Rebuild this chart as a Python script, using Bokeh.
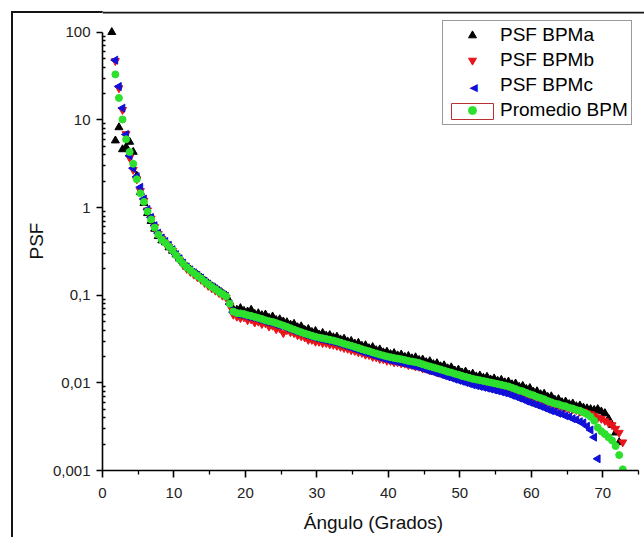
import numpy as np
from bokeh.plotting import figure
from bokeh.models import (Range1d, FixedTicker, CustomJSTickFormatter, Legend, LegendItem, Label,
                          Span, BoxAnnotation)
from bokeh.embed import file_html
from bokeh.resources import INLINE

# ---------------- data ----------------
angulo = [round(1.3 + 0.5 * i, 1) for i in range(144)]

psf_bpma = [
    100, 5.8, 8.2, 4.6, 4.9, 5.6, 4.3, 2.3, 1.5, 1.12,
    0.86, 0.70, 0.57, 0.47, 0.42, 0.40, 0.35, 0.32, 0.29, 0.26,
    0.235, 0.21, 0.196, 0.18, 0.17, 0.158, 0.146, 0.136, 0.126, 0.12,
    0.112, 0.105, 0.099, 0.084, 0.069, 0.068, 0.071, 0.066, 0.065, 0.068,
    0.061, 0.062, 0.059, 0.060, 0.055, 0.057, 0.052, 0.053, 0.050, 0.049,
    0.046, 0.047, 0.043, 0.044, 0.040, 0.041, 0.038, 0.039, 0.0355, 0.037,
    0.0345, 0.0350, 0.0330, 0.0335, 0.0312, 0.0318, 0.0296, 0.0300, 0.0280, 0.0285,
    0.0264, 0.0268, 0.0248, 0.0255, 0.0235, 0.0240, 0.0222, 0.0226, 0.0212, 0.0218,
    0.0205, 0.0210, 0.0197, 0.0202, 0.0190, 0.0195, 0.0182, 0.0184, 0.0172, 0.0176,
    0.0163, 0.0167, 0.0154, 0.0158, 0.0146, 0.0150, 0.0138, 0.0141, 0.0131, 0.0134,
    0.0124, 0.0127, 0.0118, 0.0121, 0.0114, 0.0117, 0.0109, 0.0112, 0.0105, 0.0108,
    0.0101, 0.0103, 0.0096, 0.0098, 0.0090, 0.0092, 0.0085, 0.0087, 0.0079, 0.0080,
    0.0074, 0.0075, 0.0069, 0.0070, 0.0064, 0.0065, 0.0060, 0.0061, 0.0057, 0.0058,
    0.0054, 0.0055, 0.0052, 0.0051, 0.0050, 0.0049, 0.0050, 0.0047, 0.0045, 0.0039,
    0.0033, 0.0027, 0.0021, None,
]

psf_bpmb = [
    None, 47, 23, 13.0, 6.9, 3.7, 2.7, 2.1, 1.55, 1.2,
    0.93, 0.75, 0.60, 0.50, 0.44, 0.39, 0.355, 0.32, 0.28, 0.25,
    0.222, 0.20, 0.185, 0.172, 0.16, 0.15, 0.138, 0.128, 0.12, 0.113,
    0.106, 0.099, 0.094, 0.076, 0.060, 0.057, 0.055, 0.056, 0.052, 0.053,
    0.049, 0.050, 0.047, 0.048, 0.044, 0.045, 0.041, 0.042, 0.037, 0.040,
    0.038, 0.037, 0.035, 0.034, 0.033, 0.031, 0.031, 0.0295, 0.0295, 0.0285,
    0.0285, 0.0275, 0.0272, 0.0265, 0.0258, 0.0250, 0.0245, 0.0236, 0.0232, 0.0224,
    0.0220, 0.0210, 0.0208, 0.0198, 0.0196, 0.0188, 0.0186, 0.0179, 0.0178, 0.0172,
    0.0172, 0.0167, 0.0166, 0.0160, 0.0160, 0.0154, 0.0153, 0.0146, 0.0145, 0.0139,
    0.0138, 0.0132, 0.0131, 0.0125, 0.0124, 0.0119, 0.0117, 0.0113, 0.0111, 0.0107,
    0.0106, 0.0103, 0.0102, 0.0099, 0.0099, 0.0096, 0.0095, 0.0093, 0.0092, 0.0089,
    0.0088, 0.0085, 0.0084, 0.0080, 0.0079, 0.0075, 0.0074, 0.0070, 0.0069, 0.0066,
    0.0065, 0.0062, 0.0061, 0.0058, 0.0057, 0.0055, 0.0054, 0.0052, 0.0051, 0.0050,
    0.0049, 0.0047, 0.0047, 0.0045, 0.0044, 0.0042, 0.0040, 0.0039, 0.0037, 0.0035,
    0.0033, 0.0030, 0.0027, 0.0021,
]

psf_bpmc = [
    None, 48, 24, 13.6, 6.8, 3.9, 2.8, 2.25, 1.7, 1.25,
    0.95, 0.77, 0.62, 0.51, 0.45, 0.41, 0.37, 0.33, 0.29, 0.26,
    0.232, 0.21, 0.194, 0.18, 0.168, 0.157, 0.144, 0.134, 0.125, 0.118,
    0.11, 0.103, 0.097, 0.079, 0.064, 0.061, 0.060, 0.059, 0.057, 0.056,
    0.055, 0.053, 0.052, 0.050, 0.049, 0.048, 0.046, 0.045, 0.044, 0.042,
    0.041, 0.039, 0.038, 0.037, 0.0355, 0.0345, 0.0335, 0.0325, 0.0318, 0.0312,
    0.0305, 0.0299, 0.0293, 0.0285, 0.0277, 0.0268, 0.0260, 0.0252, 0.0244, 0.0236,
    0.0228, 0.0221, 0.0215, 0.0208, 0.0202, 0.0196, 0.0190, 0.0186, 0.0181, 0.0177,
    0.0174, 0.0170, 0.0166, 0.0162, 0.0158, 0.0155, 0.0151, 0.0146, 0.0141, 0.0137,
    0.0133, 0.0129, 0.0125, 0.0121, 0.0117, 0.0114, 0.0110, 0.0107, 0.0104, 0.0101,
    0.0098, 0.0095, 0.0093, 0.0091, 0.0089, 0.0087, 0.0085, 0.0083, 0.0081, 0.0079,
    0.0077, 0.0075, 0.0072, 0.0070, 0.0067, 0.0065, 0.0062, 0.0060, 0.0058, 0.0056,
    0.0054, 0.0052, 0.0050, 0.0048, 0.0047, 0.0045, 0.0044, 0.0042, 0.0041, 0.0039,
    0.0038, 0.0036, 0.0035, 0.0032, 0.0029, 0.0024, 0.00136, None, None, None,
    None, None, None, None,
]

promedio_bpm = [
    None, 33, 17.8, 10.1, 6.0, 4.3, 3.15, 2.1, 1.45, 1.16,
    0.90, 0.73, 0.59, 0.49, 0.43, 0.395, 0.36, 0.325, 0.285, 0.255,
    0.228, 0.208, 0.192, 0.178, 0.166, 0.155, 0.142, 0.133, 0.124, 0.117,
    0.109, 0.103, 0.097, 0.080, 0.065, 0.0625, 0.0620, 0.0608, 0.0592, 0.0580,
    0.0565, 0.0550, 0.0535, 0.0518, 0.0505, 0.0495, 0.0480, 0.0465, 0.0450, 0.0435,
    0.0420, 0.0405, 0.0390, 0.0378, 0.0366, 0.0355, 0.0345, 0.0335, 0.0328, 0.0322,
    0.0316, 0.0310, 0.0304, 0.0296, 0.0288, 0.0280, 0.0272, 0.0265, 0.0257, 0.0250,
    0.0242, 0.0235, 0.0229, 0.0222, 0.0216, 0.0210, 0.0205, 0.0200, 0.0196, 0.0192,
    0.0189, 0.0186, 0.0182, 0.0178, 0.0175, 0.0172, 0.0168, 0.0163, 0.0158, 0.0154,
    0.0150, 0.0146, 0.0142, 0.0138, 0.0134, 0.0131, 0.0127, 0.0124, 0.0120, 0.0117,
    0.0114, 0.0111, 0.0109, 0.0107, 0.0105, 0.0103, 0.0101, 0.0099, 0.0097, 0.0095,
    0.0093, 0.0091, 0.0088, 0.0085, 0.0082, 0.0080, 0.0077, 0.0074, 0.0072, 0.0069,
    0.0067, 0.0065, 0.0062, 0.0060, 0.0058, 0.0057, 0.0055, 0.0054, 0.0052, 0.0051,
    0.0049, 0.0048, 0.0046, 0.0044, 0.0041, 0.0037, 0.0031, 0.0028, 0.0026, 0.0024,
    0.0022, 0.0019, 0.0015, 0.00103,
]

x_ticks = [0, 10, 20, 30, 40, 50, 60, 70]
x_minor_ticks = [5, 15, 25, 35, 45, 55, 65, 75]
y_ticks = [0.001, 0.01, 0.1, 1, 10, 100]
series_labels = ["PSF BPMa", "PSF BPMb", "PSF BPMc", "Promedio BPM"]


def arr(v):
    return np.array([np.nan if e is None else e for e in v], dtype=float)


for s in (psf_bpma, psf_bpmb, psf_bpmc, promedio_bpm):
    assert len(s) == len(angulo), len(s)

FONT = "Liberation Sans"
C_A, C_B, C_C, C_M = "black", "#e8141a", "#1010d8", "#2ee02e"
EDGE = "#151515"

# frame: left 102px, top 11px, right 644px, bottom 470px
p = figure(width=644, height=537, output_backend="svg", toolbar_location=None,
           x_range=Range1d(0, 75.84), y_range=Range1d(0.001, 172.2), y_axis_type="log",
           min_border_left=102, min_border_right=0, min_border_top=11, min_border_bottom=67,
           background_fill_color="white")
p.border_fill_color = None
p.outline_line_color = None
p.grid.visible = False
# left edge of the original picture's outer frame (plus the top edge left of the plot area)
p.styles = {
    "background-image": "linear-gradient(#151515, #151515), linear-gradient(#151515, #151515)",
    "background-position": "11px 11px, 11px 11px",
    "background-size": "2px 100%, 92px 2px",
    "background-repeat": "no-repeat, no-repeat",
    "background-color": "white",
}
# top edge of the outer frame, across the plot area
p.add_layout(Span(location=167.8, dimension="width", line_color=EDGE, line_width=2,
                  level="underlay"))

x = np.array(angulo, dtype=float)
r_a = p.scatter(x, arr(psf_bpma), marker="triangle", size=8, color=C_A)
r_b = p.scatter(x, arr(psf_bpmb), marker="inverted_triangle", size=8, color=C_B)
r_c = p.scatter(x, arr(psf_bpmc), marker="triangle", angle=np.pi / 2, size=8, color=C_C)
r_c_key = p.scatter(x=[], y=[], marker="triangle", size=8, color=C_C, alpha=0)
r_m = p.scatter(x, arr(promedio_bpm), marker="circle", size=7, color=C_M)

# axes
xa = p.xaxis[0]
xa.ticker = FixedTicker(ticks=x_ticks, minor_ticks=x_minor_ticks)
xa.axis_label = "Ángulo (Grados)"
xa.bounds = (0, 75)
ya = p.yaxis[0]
ya.ticker = FixedTicker(ticks=y_ticks,
                        minor_ticks=[k * 10.0 ** e for e in range(-3, 2) for k in range(2, 10)])
ya.formatter = CustomJSTickFormatter(code="return tick.toString().replace('.', ',');")
ya.axis_label = "PSF"
ya.bounds = (0.001, 100)

for ax in (xa, ya):
    ax.axis_line_width = 1.6
    ax.axis_line_color = "black"
    ax.major_tick_line_width = 1.6
    ax.minor_tick_line_width = 1.3
    ax.major_tick_line_color = "black"
    ax.minor_tick_line_color = "black"
    ax.major_label_text_font = FONT
    ax.major_label_text_font_size = "15px"
    ax.major_label_text_color = "#222222"
    ax.axis_label_text_font = FONT
    ax.axis_label_text_font_size = "19px"
    ax.axis_label_text_font_style = "normal"
    ax.axis_label_text_color = "#111111"

xa.major_tick_in = 0
xa.major_tick_out = 7
xa.minor_tick_in = 0
xa.minor_tick_out = 4
xa.major_label_standoff = 10
xa.axis_label_standoff = 11

ya.major_tick_in = 0
ya.major_tick_out = 6
ya.minor_tick_in = 3
ya.minor_tick_out = 0
ya.major_label_standoff = 6
ya.axis_label_standoff = 3

legend = Legend(items=[
    LegendItem(label=series_labels[0], renderers=[r_a]),
    LegendItem(label=series_labels[1], renderers=[r_b]),
    LegendItem(label=series_labels[2], renderers=[r_c_key]),
    LegendItem(label=series_labels[3], renderers=[r_m]),
], location=(340, 345))
legend.label_text_font = FONT
legend.label_text_font_size = "19px"
legend.label_text_color = "black"
legend.glyph_width = 52
legend.glyph_height = 20
legend.label_height = 20
legend.label_standoff = 2
legend.spacing = 3
legend.padding = 3
legend.margin = 0
legend.border_line_color = "#333333"
legend.border_line_width = 1
legend.background_fill_alpha = 0   # plot background is white already
p.add_layout(legend)

# red frame round the "Promedio BPM" key, as in the original legend
p.add_layout(BoxAnnotation(left=451, right=493, top=103, bottom=119,
                           left_units="canvas", right_units="canvas",
                           top_units="canvas", bottom_units="canvas",
                           fill_alpha=0, line_color="#b83030", line_width=1, line_alpha=1))

# left-pointing key symbol for PSF BPMc (legend keys are never rotated by Bokeh)
p.add_layout(Label(x=473, y=87, x_units="canvas", y_units="canvas", text="\u25c0",
                   text_color=C_C, text_font="DejaVu Sans", text_font_size="11px",
                   text_align="center", text_baseline="middle"))

open("out.html", "w").write(file_html(p, INLINE))
